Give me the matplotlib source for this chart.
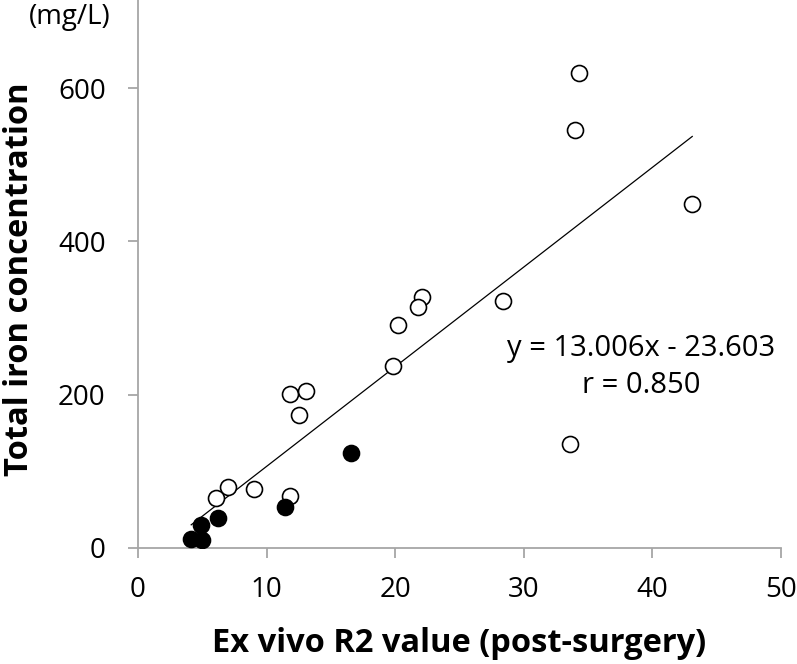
import numpy as np
import matplotlib as mpl
mpl.use('Agg')
from matplotlib import pyplot as plt

mpl.rcParams.update({"font.family": ["Open Sans", "DejaVu Sans"],
                     "font.size": 20})

# open circles
open_x = [34.3, 34.0, 43.1, 28.4, 22.1, 21.8, 20.2, 19.8, 33.6,
          11.85, 13.1, 12.5, 9.0, 7.0, 6.07, 11.85]
open_y = [620, 546, 449, 322, 328, 315, 291, 237, 136,
          201, 205, 174, 77, 79, 65, 68]
# filled circles
fill_x = [16.6, 11.46, 6.25, 4.9, 4.14, 4.97]
fill_y = [124, 54, 39, 30, 12, 11]

slope, intercept = 13.006, -23.603
eq_text = "y = 13.006x - 23.603\nr = 0.850"

fig = plt.figure(figsize=(7.97, 6.64), dpi=100)
ax = fig.add_axes([0.1731, 0.1747, 0.8068, 0.8253])

# trend line over the data range
all_x = np.array(open_x + fill_x)
xl = np.array([all_x.min(), all_x.max()])
ax.plot(xl, slope * xl + intercept, color='k', lw=0.9, zorder=1)

ax.plot(open_x, open_y, 'o', ms=11.5, mfc='white', mec='k', mew=1.2, zorder=2)
ax.plot(fill_x, fill_y, 'o', ms=11.5, mfc='k', mec='k', mew=1.2, zorder=3)

ax.set_xlim(0, 50)
ax.set_ylim(0, 715)
ax.set_xticks([0, 10, 20, 30, 40, 50])
ax.set_yticks([0, 200, 400, 600])

for s in ['top', 'right']:
    ax.spines[s].set_visible(False)
for s in ['left', 'bottom']:
    ax.spines[s].set_color('#a6a6a6')
    ax.spines[s].set_linewidth(1.3)
ax.tick_params(direction='out', length=7.2, width=1.3, color='#a6a6a6', labelsize=20)
ax.tick_params(axis='x', pad=13)
ax.tick_params(axis='y', pad=16)

ax.set_xlabel('Ex vivo R2 value (post-surgery)', fontsize=23.5, fontweight='bold', va='baseline')
ax.xaxis.set_label_coords(0.5, -0.19)
ax.set_ylabel('Total iron concentration', fontsize=23.5, fontweight='bold', va='center')
ax.yaxis.set_label_coords(-0.185, 0.49)

ax.text(39.1, 236, eq_text, ha='center', va='center', fontsize=21, linespacing=1.35)
fig.text(0.0878, 0.974, '(mg/L)', ha='center', va='center', fontsize=20)

fig.savefig('out.png', dpi=100)
